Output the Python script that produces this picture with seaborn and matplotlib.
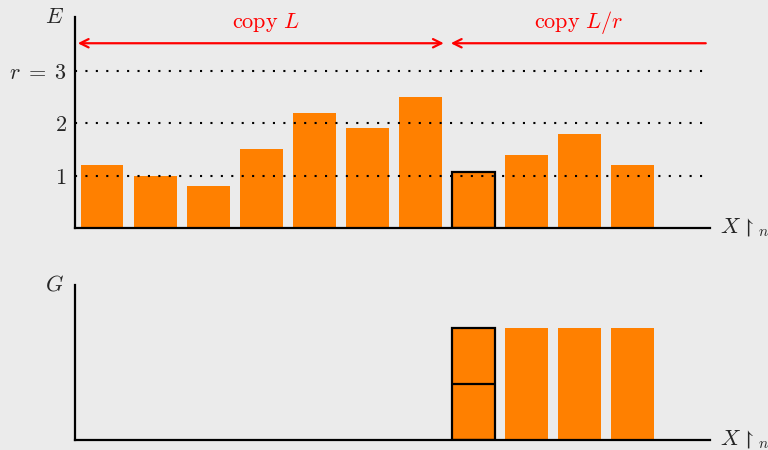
import matplotlib
matplotlib.use("Agg")
import matplotlib.pyplot as plt
import seaborn as sns
import pandas as pd

# data
positions = list(range(11))
E_values = [1.2, 1.0, 0.8, 1.5, 2.2, 1.9, 2.5, 1.07, 1.4, 1.8, 1.2]
G_values = [0, 0, 0, 0, 0, 0, 0, 2, 2, 2, 2]
highlight = 7
ref_levels = [1, 2, 3]
ref_labels = ["$1$", "$2$", r"$r\;=\;3$"]

sns.set_theme(style="white")
plt.rcParams["mathtext.fontset"] = "cm"
bg = "#ebebeb"
orange = "#ff8000"

fig = plt.figure(figsize=(7.68, 4.5), dpi=100, facecolor=bg)
ax1 = fig.add_axes([75/768, 1-228/450, (710-75)/768, (228-17)/450])
ax2 = fig.add_axes([75/768, 1-440/450, (710-75)/768, (440-285)/450])

dfE = pd.DataFrame({"pos": positions, "val": E_values})
dfG = pd.DataFrame({"pos": positions, "val": G_values})

for ax, df in ((ax1, dfE), (ax2, dfG)):
    ax.set_facecolor(bg)
    sns.barplot(data=df, x="pos", y="val", order=positions, color=orange,
                saturation=1, width=0.81, ax=ax, linewidth=0)
    for s in ("top", "right"):
        ax.spines[s].set_visible(False)
    for s in ("left", "bottom"):
        ax.spines[s].set_color("black")
        ax.spines[s].set_linewidth(1.6)
    ax.set_xlim(-0.51, 11.47)
    ax.set_xticks([])
    ax.set_xlabel("")
    ax.set_ylabel("")
    ax.text(11.65, 0, r"$X\upharpoonright_n$", fontsize=16, va="center", ha="left")

ax1.set_ylim(0, 4.02)
ax2.set_ylim(0, 2.77)

# highlighted bars
p = ax1.patches[highlight]
p.set_edgecolor("black"); p.set_linewidth(1.6)
p2 = ax2.patches[highlight]
p2.set_edgecolor("black"); p2.set_linewidth(1.6)
x0 = p2.get_x(); w = p2.get_width()
ax2.hlines(G_values[highlight]/2, x0, x0+w, color="black", lw=1.6)

# reference lines
for lv in ref_levels:
    ax1.hlines(lv, -0.51, 11.47, color="black", lw=1.5, linestyles=(0, (1, 4)), zorder=3)
ax1.set_yticks(ref_levels)
ax1.set_yticklabels(ref_labels, fontsize=16)
ax1.tick_params(axis="y", length=0, pad=6)
ax2.set_yticks([])

ax1.text(-0.9, 4.02, "$E$", fontsize=16, ha="center", va="center")
ax2.text(-0.9, 2.77, "$G$", fontsize=16, ha="center", va="center")

# arrows
ya = 3.52
ax1.annotate("", xy=(-0.51, ya), xytext=(6.5, ya),
             arrowprops=dict(arrowstyle="<->,head_length=0.5,head_width=0.25", color="red", lw=1.6),
             annotation_clip=False)
ax1.annotate("", xy=(6.58, ya), xytext=(11.39, ya),
             arrowprops=dict(arrowstyle="->,head_length=0.5,head_width=0.25", color="red", lw=1.6,
                             shrinkA=0, shrinkB=0),
             annotation_clip=False)
ax1.text(3.1, 3.92, r"$\mathrm{copy}\ L$", color="red", fontsize=16, ha="center", va="center")
ax1.text(9.0, 3.92, r"$\mathrm{copy}\ L/r$", color="red", fontsize=16, ha="center", va="center")

fig.savefig("out.png", dpi=100, facecolor=bg)
